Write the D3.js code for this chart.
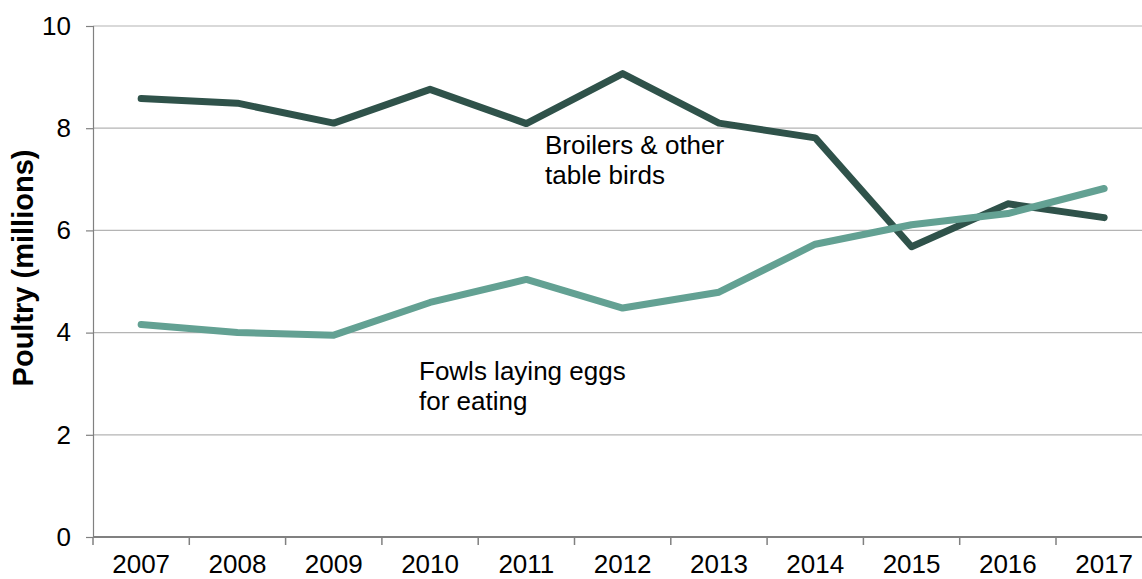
<!DOCTYPE html>
<html>
<head>
<meta charset="utf-8">
<script src="https://cdn.jsdelivr.net/npm/d3@7"></script>
<style>
  html, body { margin: 0; padding: 0; background: #fff; }
  svg { display: block; font-family: "Liberation Sans", Arial, sans-serif; }
</style>
</head>
<body>
<svg id="chart" width="1142" height="579"></svg>
<script>
const years = ["2007","2008","2009","2010","2011","2012","2013","2014","2015","2016","2017"];
const broilers = [8.58, 8.49, 8.10, 8.76, 8.09, 9.07, 8.10, 7.81, 5.68, 6.52, 6.25];
const fowls = [4.16, 4.00, 3.95, 4.59, 5.04, 4.48, 4.79, 5.73, 6.11, 6.33, 6.82];
const yTicks = [0, 2, 4, 6, 8, 10];
const yTitle = "Poultry (millions)";
const broilerLabel = ["Broilers & other", "table birds"];
const fowlLabel = ["Fowls laying eggs", "for eating"];

(function () {
const svg = d3.select("#chart");
const mLeft = 93, mTop = 26, mBottom = 537, step = 96.3;
const x = d3.scaleBand().domain(years).range([mLeft, mLeft + step * years.length]).padding(0);
const y = d3.scaleLinear().domain([0, 10]).range([mBottom, mTop]);
const W = 1142;

// gridlines
svg.append("g").selectAll("line").data(yTicks.filter(d => d > 0)).join("line")
  .attr("x1", mLeft).attr("x2", W)
  .attr("y1", d => y(d)).attr("y2", d => y(d))
  .attr("stroke", "#b4b4b4").attr("stroke-width", 1.2);

// y axis
const yAxis = svg.append("g").attr("transform", `translate(${mLeft},0)`)
  .call(d3.axisLeft(y).tickValues(yTicks).tickSize(7).tickPadding(15).tickFormat(d3.format("d")));
yAxis.select(".domain").attr("stroke", "#808080").attr("stroke-width", 1.2);
yAxis.selectAll(".tick line").attr("stroke", "#808080").attr("stroke-width", 1.2);
yAxis.selectAll(".tick text").attr("font-size", 26).attr("fill", "#000")
  .attr("font-family", "Liberation Sans, Arial, sans-serif");

// x axis
const xAxis = svg.append("g").attr("transform", `translate(0,${mBottom})`)
  .call(d3.axisBottom(x).tickSize(0).tickPadding(18));
xAxis.select(".domain").remove();
svg.append("line").attr("x1", mLeft).attr("x2", W).attr("y1", mBottom).attr("y2", mBottom)
  .attr("stroke", "#808080").attr("stroke-width", 2);
svg.append("g").selectAll("line").data(years).join("line")
  .attr("x1", d => x(d)).attr("x2", d => x(d))
  .attr("y1", mBottom).attr("y2", mBottom + 8)
  .attr("stroke", "#808080").attr("stroke-width", 1.5);
xAxis.selectAll(".tick text").attr("font-size", 26).attr("fill", "#000")
  .attr("font-family", "Liberation Sans, Arial, sans-serif").attr("dy", "0.71em");

// lines
const cx = d => x(d) + x.bandwidth() / 2;
const line = d3.line().x(d => cx(d.year)).y(d => y(d.v));
const mk = arr => years.map((yr, i) => ({ year: yr, v: arr[i] }));

svg.append("path").datum(mk(broilers)).attr("d", line)
  .attr("fill", "none").attr("stroke", "#2f524a").attr("stroke-width", 7)
  .attr("stroke-linecap", "round").attr("stroke-linejoin", "round");
svg.append("path").datum(mk(fowls)).attr("d", line)
  .attr("fill", "none").attr("stroke", "#63a193").attr("stroke-width", 7)
  .attr("stroke-linecap", "round").attr("stroke-linejoin", "round");

// y title
svg.append("text")
  .attr("transform", "translate(33,268) rotate(-90)")
  .attr("text-anchor", "middle")
  .attr("font-size", 29).attr("font-weight", "bold").attr("fill", "#000")
  .text(yTitle);

// labels
const lab = (lines, x0, y0) => {
  svg.append("g").selectAll("text").data(lines).join("text")
    .attr("x", x0).attr("y", (d, i) => y0 + i * 29.5)
    .attr("font-size", 26).attr("fill", "#000")
    .text(d => d);
};
lab(broilerLabel, 545, 154);
lab(fowlLabel, 419, 380);
})();
</script>
</body>
</html>
